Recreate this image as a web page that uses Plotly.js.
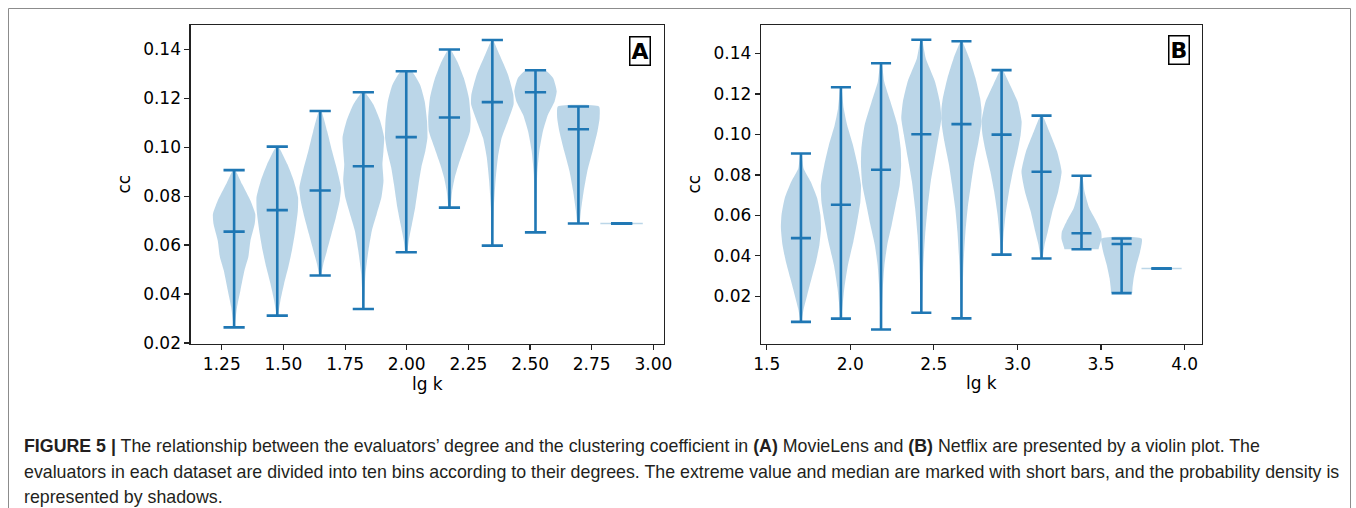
<!DOCTYPE html>
<html>
<head>
<meta charset="utf-8">
<script src="https://cdn.plot.ly/plotly-3.0.1.min.js"></script>
<style>
  html, body { margin: 0; padding: 0; background: #ffffff; }
  #chart { width: 1356px; height: 508px; }
</style>
</head>
<body>
<div id="chart"></div>
<script>
// ---------- Panel A (MovieLens) ----------
const posA = [1.300, 1.475, 1.649, 1.824, 1.998, 2.173, 2.347, 2.522, 2.696, 2.871];
const minA = [0.0264, 0.0312, 0.0476, 0.0339, 0.0571, 0.0753, 0.0598, 0.0652, 0.0688, 0.0688];
const medA = [0.0655, 0.0743, 0.0823, 0.0922, 0.1041, 0.1121, 0.1184, 0.1224, 0.1073, 0.0688];
const maxA = [0.0906, 0.1002, 0.1148, 0.1224, 0.1310, 0.1399, 0.1438, 0.1314, 0.1166, 0.0688];
// density outline: levels (cc values) and relative half-widths
const levelsA = [
  [0.0264, 0.0348, 0.0416, 0.0497, 0.0551, 0.0618, 0.0686, 0.0726, 0.0780, 0.0848, 0.0906],
  [0.0312, 0.0374, 0.0442, 0.0510, 0.0578, 0.0659, 0.0740, 0.0794, 0.0862, 0.0930, 0.1002],
  [0.0476, 0.0523, 0.0577, 0.0645, 0.0713, 0.0781, 0.0835, 0.0903, 0.0984, 0.1065, 0.1148],
  [0.0339, 0.0482, 0.0578, 0.0659, 0.0727, 0.0794, 0.0863, 0.0930, 0.0986, 0.1040, 0.1108, 0.1176, 0.1224],
  [0.0571, 0.0619, 0.0686, 0.0754, 0.0849, 0.0917, 0.0984, 0.1039, 0.1106, 0.1187, 0.1255, 0.1310],
  [0.0753, 0.0821, 0.0875, 0.0929, 0.0997, 0.1065, 0.1119, 0.1200, 0.1282, 0.1350, 0.1399],
  [0.0598, 0.0754, 0.0862, 0.0957, 0.1038, 0.1106, 0.1174, 0.1214, 0.1296, 0.1377, 0.1438],
  [0.0652, 0.0754, 0.0889, 0.0984, 0.1065, 0.1133, 0.1187, 0.1228, 0.1282, 0.1314],
  [0.0688, 0.0740, 0.0821, 0.0902, 0.0984, 0.1065, 0.1119, 0.1166],
  [0.0688]
];
const widthsA = [
  [0.02, 0.14, 0.30, 0.49, 0.67, 0.77, 0.97, 1.00, 0.78, 0.38, 0.05],
  [0.03, 0.15, 0.32, 0.52, 0.69, 0.85, 0.97, 0.98, 0.78, 0.48, 0.05],
  [0.04, 0.15, 0.32, 0.53, 0.74, 0.92, 0.98, 0.81, 0.56, 0.33, 0.05],
  [0.02, 0.10, 0.24, 0.40, 0.63, 0.85, 0.95, 0.90, 0.95, 0.98, 0.79, 0.46, 0.06],
  [0.05, 0.12, 0.27, 0.42, 0.58, 0.71, 0.90, 1.00, 0.98, 0.87, 0.65, 0.25],
  [0.05, 0.13, 0.25, 0.43, 0.70, 0.97, 1.00, 0.92, 0.68, 0.37, 0.05],
  [0.02, 0.07, 0.15, 0.26, 0.44, 0.73, 1.00, 0.99, 0.74, 0.34, 0.03],
  [0.02, 0.04, 0.08, 0.18, 0.35, 0.59, 0.90, 1.00, 0.83, 0.45],
  [0.06, 0.12, 0.25, 0.42, 0.67, 0.90, 1.00, 0.97],
  [1.00]
];

// ---------- Panel B (Netflix) ----------
const posB = [1.705, 1.944, 2.184, 2.425, 2.665, 2.905, 3.144, 3.383, 3.623, 3.862];
const minB = [0.0074, 0.0090, 0.0036, 0.0119, 0.0091, 0.0406, 0.0387, 0.0433, 0.0216, 0.0338];
const medB = [0.0488, 0.0653, 0.0826, 0.1001, 0.1051, 0.0999, 0.0816, 0.0512, 0.0459, 0.0338];
const maxB = [0.0906, 0.1233, 0.1352, 0.1468, 0.1461, 0.1318, 0.1093, 0.0796, 0.0486, 0.0338];
const levelsB = [
  [0.0074, 0.0140, 0.0206, 0.0289, 0.0371, 0.0454, 0.0536, 0.0602, 0.0685, 0.0767, 0.0833, 0.0906],
  [0.0090, 0.0240, 0.0355, 0.0470, 0.0569, 0.0668, 0.0750, 0.0849, 0.0948, 0.1047, 0.1130, 0.1233],
  [0.0036, 0.0223, 0.0355, 0.0454, 0.0552, 0.0651, 0.0750, 0.0849, 0.0931, 0.1046, 0.1162, 0.1261, 0.1352],
  [0.0119, 0.0355, 0.0503, 0.0635, 0.0767, 0.0882, 0.0998, 0.1080, 0.1162, 0.1262, 0.1377, 0.1468],
  [0.0091, 0.0355, 0.0519, 0.0635, 0.0750, 0.0849, 0.0965, 0.1047, 0.1121, 0.1179, 0.1278, 0.1377, 0.1461],
  [0.0406, 0.0504, 0.0603, 0.0718, 0.0817, 0.0915, 0.0998, 0.1064, 0.1162, 0.1245, 0.1318],
  [0.0387, 0.0454, 0.0519, 0.0619, 0.0718, 0.0816, 0.0915, 0.1014, 0.1093],
  [0.0433, 0.0445, 0.0486, 0.0519, 0.0569, 0.0635, 0.0718, 0.0796],
  [0.0216, 0.0239, 0.0289, 0.0355, 0.0421, 0.0486],
  [0.0338]
];
const widthsB = [
  [0.02, 0.14, 0.31, 0.53, 0.75, 0.92, 1.00, 0.97, 0.81, 0.48, 0.13, 0.03],
  [0.02, 0.17, 0.35, 0.62, 0.81, 0.97, 1.00, 0.83, 0.60, 0.31, 0.14, 0.02],
  [0.02, 0.08, 0.17, 0.31, 0.53, 0.73, 0.93, 1.00, 0.98, 0.82, 0.47, 0.16, 0.03],
  [0.02, 0.10, 0.19, 0.31, 0.47, 0.67, 0.87, 1.00, 0.92, 0.68, 0.22, 0.03],
  [0.02, 0.10, 0.20, 0.31, 0.47, 0.62, 0.85, 0.98, 1.00, 0.93, 0.70, 0.39, 0.03],
  [0.03, 0.10, 0.20, 0.37, 0.56, 0.79, 0.95, 1.00, 0.80, 0.42, 0.05],
  [0.05, 0.15, 0.31, 0.54, 0.83, 1.00, 0.78, 0.39, 0.05],
  [0.85, 0.88, 1.00, 0.98, 0.75, 0.39, 0.15, 0.03],
  [0.53, 0.54, 0.60, 0.74, 0.92, 1.00],
  [1.00]
];

// tick labels
const xTicksA = [1.25, 1.50, 1.75, 2.00, 2.25, 2.50, 2.75, 3.00];
const xTicksB = [1.5, 2.0, 2.5, 3.0, 3.5, 4.0];
const yTicksA = [0.02, 0.04, 0.06, 0.08, 0.10, 0.12, 0.14];
const yTicksB = [0.02, 0.04, 0.06, 0.08, 0.10, 0.12, 0.14];

const captionLines = [
  "<b>FIGURE 5 |</b> The relationship between the evaluators\u2019 degree and the clustering coefficient in <b>(A)</b> MovieLens and <b>(B)</b> Netflix are presented by a violin plot. The",
  "evaluators in each dataset are divided into ten bins according to their degrees. The extreme value and median are marked with short bars, and the probability density is",
  "represented by shadows."
];

// ---------- style ----------
const BLUE = '#1f77b4';
const FILL = 'rgba(31,119,180,0.30)';
const W = 1356, H = 508;

function panelTraces(pos, mins, meds, maxs, levels, widths, xa, ya, halfW, capHW) {
  const traces = [];
  for (let i = 0; i < pos.length; i++) {
    const lv = levels[i], wd = widths[i], c = pos[i];
    if (lv.length > 1) {
      const xs = [], ys = [];
      for (let j = 0; j < lv.length; j++) { xs.push(c + wd[j] * halfW); ys.push(lv[j]); }
      for (let j = lv.length - 1; j >= 0; j--) { xs.push(c - wd[j] * halfW); ys.push(lv[j]); }
      traces.push({type: 'scatter', mode: 'lines', x: xs, y: ys, fill: 'toself',
        fillcolor: FILL, line: {width: 0, color: FILL, shape: 'spline', smoothing: 0.5},
        xaxis: xa, yaxis: ya, hoverinfo: 'skip', showlegend: false});
    } else {
      traces.push({type: 'scatter', mode: 'lines',
        x: [c - wd[0] * halfW, c + wd[0] * halfW], y: [lv[0], lv[0]],
        line: {width: 1.5, color: FILL}, xaxis: xa, yaxis: ya, hoverinfo: 'skip', showlegend: false});
    }
  }
  const lx = [], ly = [];
  for (let i = 0; i < pos.length; i++) {
    const c = pos[i];
    lx.push(c, c, null); ly.push(mins[i], maxs[i], null);
    [mins[i], meds[i], maxs[i]].forEach(v => { lx.push(c - capHW, c + capHW, null); ly.push(v, v, null); });
  }
  traces.push({type: 'scatter', mode: 'lines', x: lx, y: ly,
    line: {width: 2.6, color: BLUE}, xaxis: xa, yaxis: ya, hoverinfo: 'skip', showlegend: false});
  return traces;
}

const data = [].concat(
  panelTraces(posA, minA, medA, maxA, levelsA, widthsA, 'x', 'y', 0.086, 0.043),
  panelTraces(posB, minB, medB, maxB, levelsB, widthsB, 'x2', 'y2', 0.120, 0.060)
);

const tickFont = {family: 'DejaVu Sans', size: 17, color: '#000'};
function axisBase() {
  return {showline: true, mirror: true, linecolor: '#222', linewidth: 1.3,
    ticks: 'outside', ticklen: 5, tickwidth: 1.2, tickcolor: '#222',
    showgrid: false, zeroline: false, tickfont: tickFont, automargin: false};
}
const px = v => v / W;
const py = v => (H - v) / H;

const layout = {
  width: W, height: H, autosize: false,
  margin: {l: 0, r: 0, t: 0, b: 0},
  paper_bgcolor: '#fff', plot_bgcolor: '#fff',
  showlegend: false,
  xaxis: Object.assign(axisBase(), {domain: [px(190.7), px(664)], range: [1.124, 3.043],
    tickvals: xTicksA, ticktext: xTicksA.map(v => v.toFixed(2)), anchor: 'y',
    title: {text: 'lg k', font: {family: 'DejaVu Sans', size: 17, color: '#000'}, standoff: 4}}),
  yaxis: Object.assign(axisBase(), {domain: [py(343.5), py(25)], range: [0.0198, 0.1499],
    tickvals: yTicksA, ticktext: yTicksA.map(v => v.toFixed(2)), anchor: 'x',
    title: {text: 'cc', font: {family: 'DejaVu Sans', size: 17, color: '#000'}, standoff: 8}}),
  xaxis2: Object.assign(axisBase(), {domain: [px(761), px(1201.7)], range: [1.466, 4.102],
    tickvals: xTicksB, ticktext: xTicksB.map(v => v.toFixed(1)), anchor: 'y2',
    title: {text: 'lg k', font: {family: 'DejaVu Sans', size: 17, color: '#000'}, standoff: 4}}),
  yaxis2: Object.assign(axisBase(), {domain: [py(343.5), py(25)], range: [-0.0033, 0.1541],
    tickvals: yTicksB, ticktext: yTicksB.map(v => v.toFixed(2)), anchor: 'x2',
    title: {text: 'cc', font: {family: 'DejaVu Sans', size: 17, color: '#000'}, standoff: 8}}),
  shapes: [
    {type: 'rect', xref: 'paper', yref: 'paper', x0: px(8.5), x1: px(1350.5), y0: py(540), y1: py(8.5),
     line: {color: '#8c8c8c', width: 1}, fillcolor: 'rgba(0,0,0,0)', layer: 'below'}
  ],
  annotations: [
    {xref: 'paper', yref: 'paper', x: px(640.3), y: py(51.2), xanchor: 'center', yanchor: 'middle',
     text: '<b>A</b>', showarrow: false, font: {family: 'DejaVu Sans', size: 22, color: '#000'},
     bordercolor: '#000', borderwidth: 1.5, borderpad: 1, bgcolor: '#fff'},
    {xref: 'paper', yref: 'paper', x: px(1178.8), y: py(49.5), xanchor: 'center', yanchor: 'middle',
     text: '<b>B</b>', showarrow: false, font: {family: 'DejaVu Sans', size: 22, color: '#000'},
     bordercolor: '#000', borderwidth: 1.5, borderpad: 1, bgcolor: '#fff'}
  ].concat(captionLines.map((t, k) => ({
     xref: 'paper', yref: 'paper', x: px(22), y: py([445.5, 472, 496.5][k]),
     xanchor: 'left', yanchor: 'middle', align: 'left', showarrow: false, text: t,
     font: {family: 'Liberation Sans, Arial, sans-serif', size: 17.8, color: '#231f20'}
  })))
};

Plotly.newPlot('chart', data, layout, {displayModeBar: false, staticPlot: true});
</script>
</body>
</html>
